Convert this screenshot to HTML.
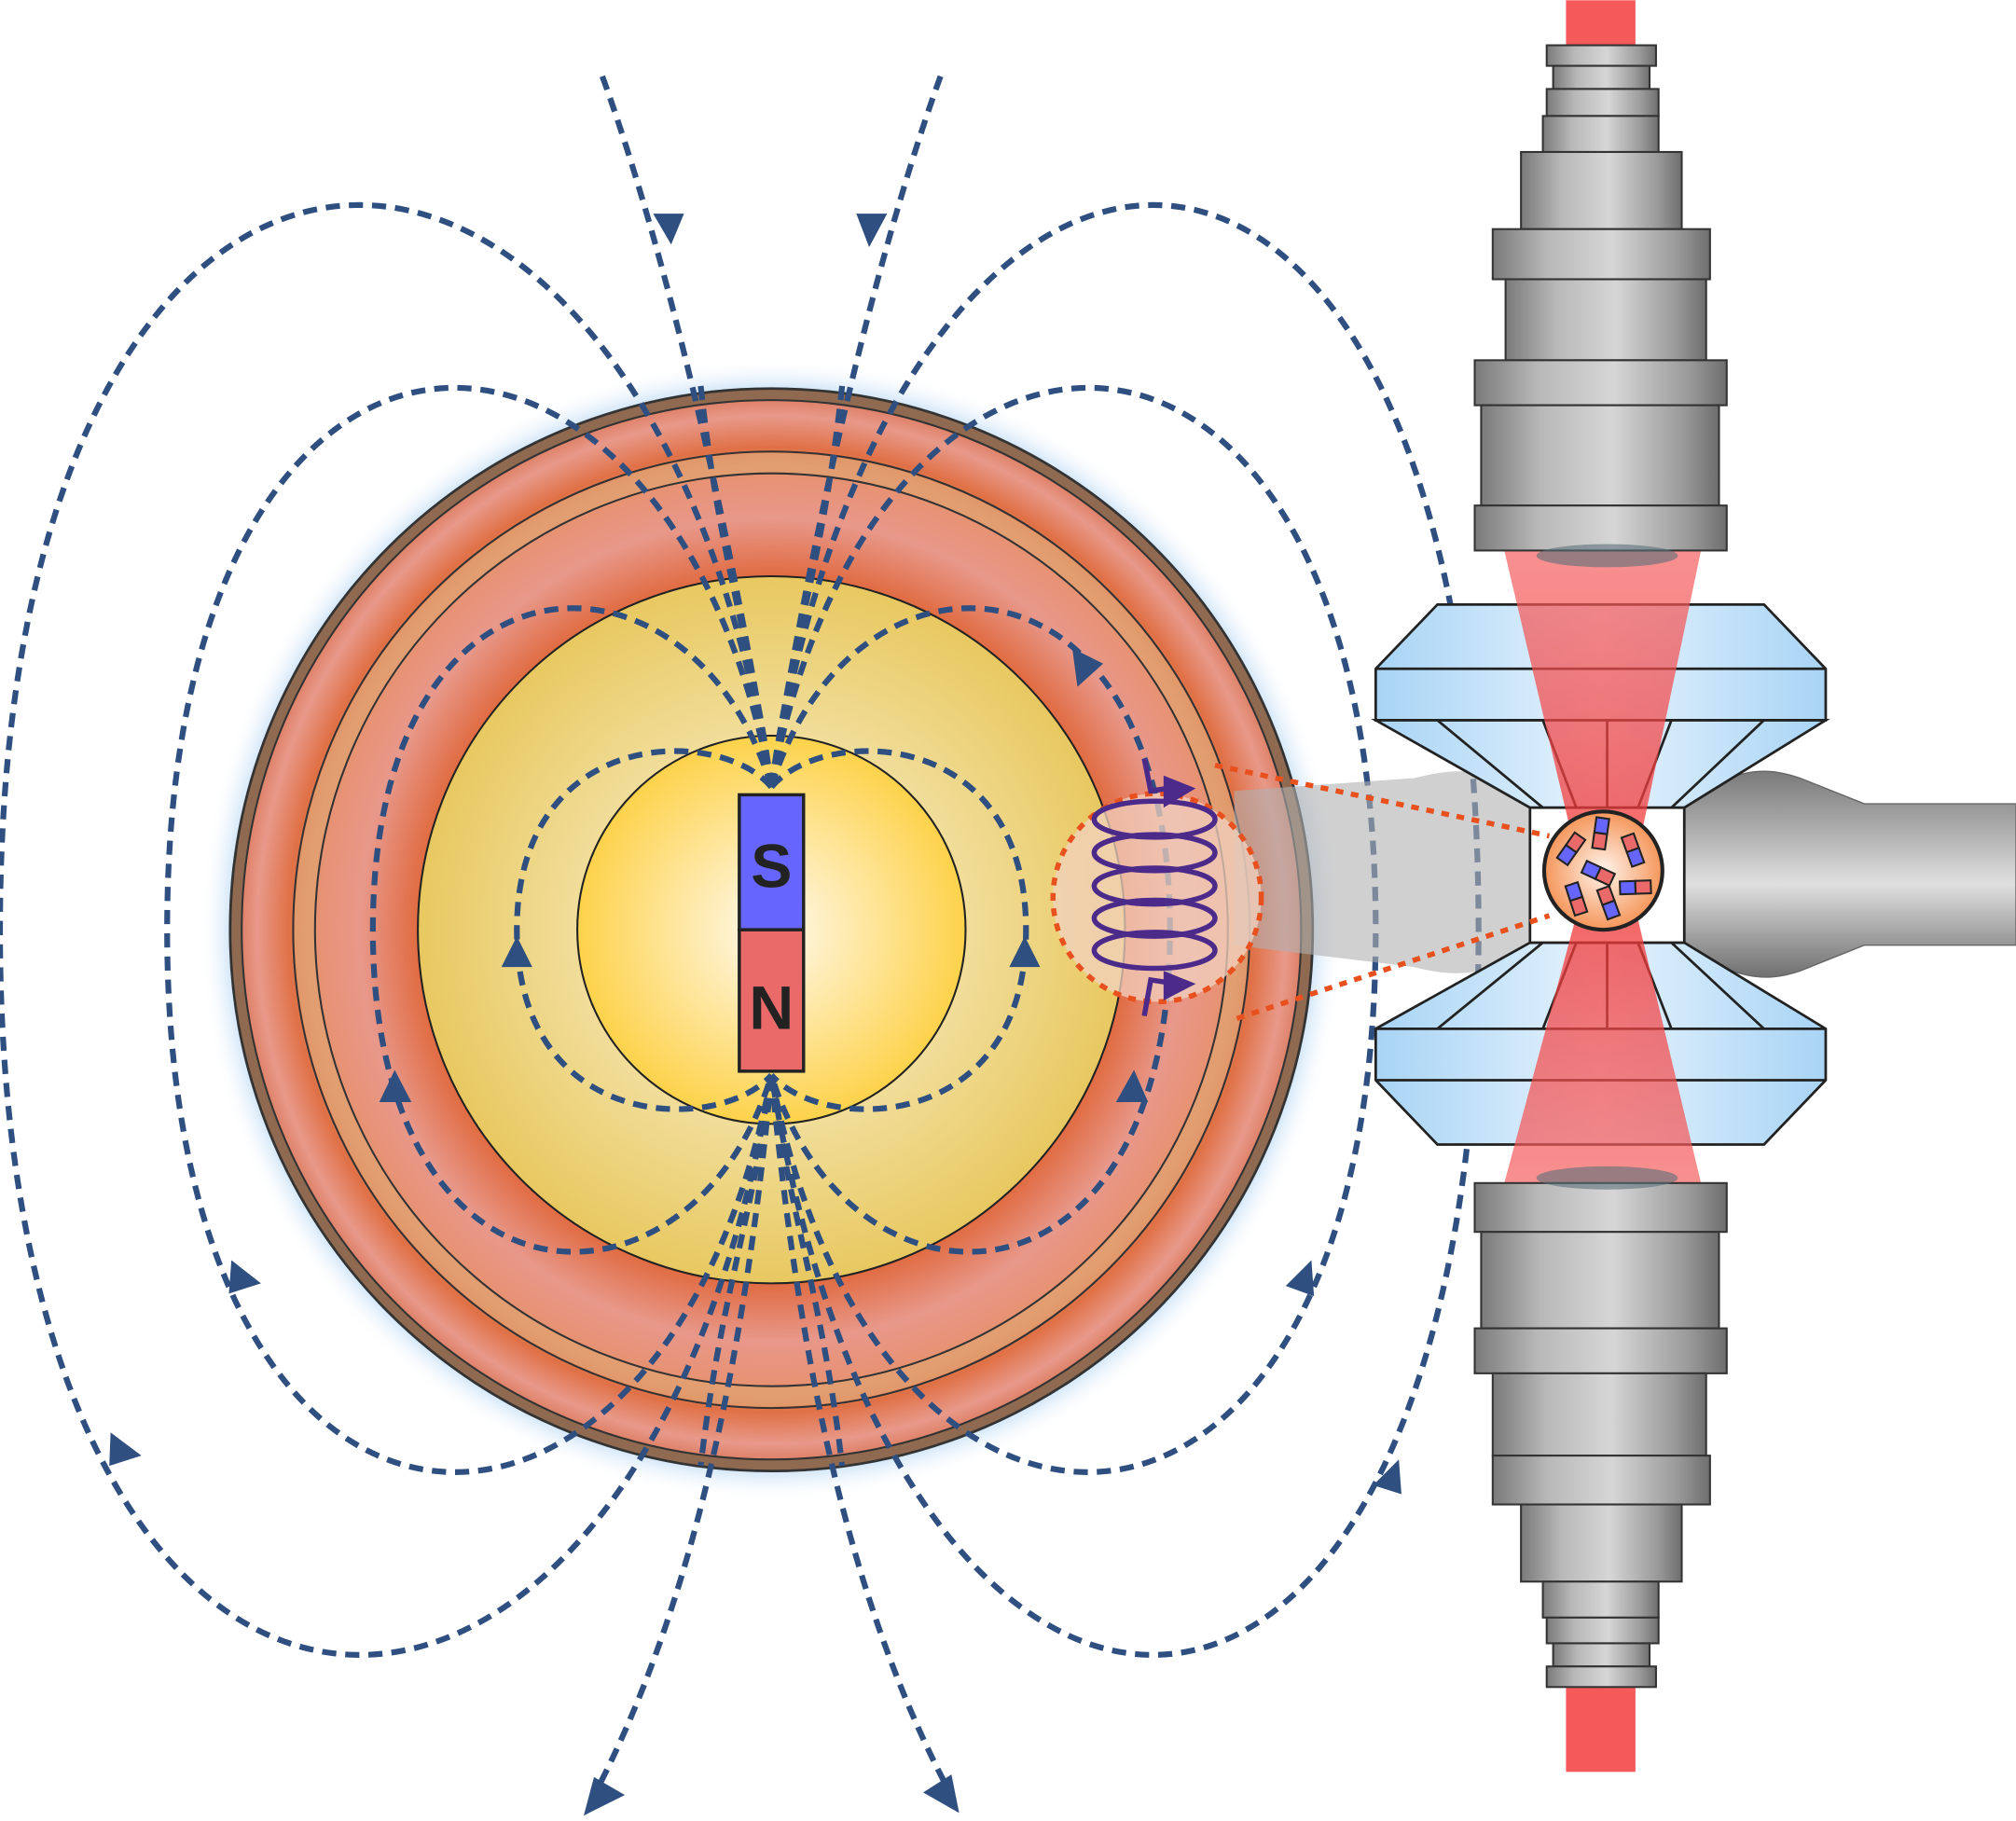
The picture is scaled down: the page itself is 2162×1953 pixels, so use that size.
<!DOCTYPE html>
<html><head><meta charset="utf-8"><style>html,body{margin:0;padding:0;background:#fff}svg{display:block}</style></head>
<body>
<svg width="2162" height="1953" viewBox="0 0 1568 1416" xmlns="http://www.w3.org/2000/svg">
<defs>
<linearGradient id="metal" x1="0" x2="1" y1="0" y2="0">
<stop offset="0" stop-color="#7a7a7a"/><stop offset="0.25" stop-color="#b8b8b8"/><stop offset="0.55" stop-color="#d6d6d6"/><stop offset="0.85" stop-color="#9a9a9a"/><stop offset="1" stop-color="#6e6e6e"/></linearGradient>
<linearGradient id="metalV" x1="0" x2="0" y1="0" y2="1">
<stop offset="0" stop-color="#7a7a7a"/><stop offset="0.3" stop-color="#b0b0b0"/><stop offset="0.55" stop-color="#e0e0e0"/><stop offset="0.8" stop-color="#a0a0a0"/><stop offset="1" stop-color="#707070"/></linearGradient>
<linearGradient id="blueA" x1="0" x2="1"><stop offset="0" stop-color="#a8d4f5"/><stop offset="0.5" stop-color="#e6f3fd"/><stop offset="1" stop-color="#a8d4f5"/></linearGradient>
<radialGradient id="mantle" cx="600" cy="723" r="421" gradientUnits="userSpaceOnUse">
<stop offset="0.65" stop-color="#e06a40"/><stop offset="0.76" stop-color="#e8988a"/><stop offset="0.86" stop-color="#e8906e"/><stop offset="0.89" stop-color="#e07045"/><stop offset="0.95" stop-color="#e8998a"/><stop offset="1" stop-color="#d87050"/></radialGradient>
<radialGradient id="outer" cx="600" cy="723" r="275" gradientUnits="userSpaceOnUse">
<stop offset="0.5" stop-color="#f2e0a0"/><stop offset="1" stop-color="#e8c860"/></radialGradient>
<radialGradient id="inner" cx="600" cy="723" r="152" gradientUnits="userSpaceOnUse">
<stop offset="0" stop-color="#fffaf0"/><stop offset="1" stop-color="#fdd24a"/></radialGradient>
<radialGradient id="sample" cx="0.5" cy="0.5" r="0.5"><stop offset="0" stop-color="#fff4ec"/><stop offset="1" stop-color="#f5965a"/></radialGradient>
<radialGradient id="glow" cx="600" cy="723" r="445" gradientUnits="userSpaceOnUse"><stop offset="0.92" stop-color="#9cc8f0"/><stop offset="1" stop-color="#ffffff" stop-opacity="0"/></radialGradient>
<linearGradient id="beam1" x1="0" x2="0" y1="0" y2="1"><stop offset="0" stop-color="#f56060" stop-opacity="0.7"/><stop offset="1" stop-color="#f03030" stop-opacity="0.75"/></linearGradient>
<linearGradient id="beam2" x1="0" x2="0" y1="1" y2="0"><stop offset="0" stop-color="#f56060" stop-opacity="0.7"/><stop offset="1" stop-color="#f03030" stop-opacity="0.75"/></linearGradient>
</defs>

<circle cx="600" cy="723" r="445" fill="url(#glow)"/>
<circle cx="600" cy="723" r="421" fill="#8f6a50" stroke="#333" stroke-width="2"/>
<circle cx="600" cy="723" r="412" fill="url(#mantle)" stroke="#333" stroke-width="1.5"/>
<circle cx="600" cy="723" r="372" fill="none" stroke="#333" stroke-width="1.5"/>
<circle cx="600" cy="723" r="363" fill="none" stroke="#e0a070" stroke-width="16" opacity="0.8"/>
<circle cx="600" cy="723" r="355" fill="none" stroke="#333" stroke-width="1.5"/>
<circle cx="600" cy="723" r="275" fill="url(#outer)" stroke="#222" stroke-width="1.5"/>
<circle cx="600" cy="723" r="151" fill="url(#inner)" stroke="#222" stroke-width="1.5"/>

<g fill="none" stroke="#2e4f80" stroke-width="4.5" stroke-dasharray="11 7">
<path d="M600,612 C560,564 402,564 402,723 C402,882 560,882 600,836"/>
<path d="M600,612 C640,564 798,564 798,723 C798,882 640,882 600,836"/>
<path d="M600,612 C540,411 290,411 290,723 C290,1035 540,1035 600,836"/>
<path d="M600,612 C660,411 910,411 910,723 C910,1035 660,1035 600,836"/>
<path d="M600,612 C520,181 130,181 130,723 C130,1265 520,1265 600,836"/>
<path d="M600,612 C680,181 1070,181 1070,723 C1070,1265 680,1265 600,836"/>
<path d="M600,612 C500,-9 0,-9 0,723 C0,1455 500,1455 600,836"/>
<path d="M600,612 C700,-9 1150,-9 1150,723 C1150,1455 700,1455 600,836"/>
<path d="M600,612 C570,420 520,200 467,55"/>
<path d="M600,612 C630,420 680,200 733,55"/>
<path d="M600,836 C580,1050 540,1250 460,1400"/>
<path d="M600,836 C620,1050 660,1250 742,1400"/>
<path d="M600,612 C585,500 560,440 545,300"/>
<path d="M600,612 C615,500 640,440 655,300"/>
<path d="M600,836 C585,950 560,1010 545,1140"/>
<path d="M600,836 C615,950 640,1010 655,1140"/>
</g>
<g fill="#2e4f80">
<polygon points="508,166 532,166 522,190"/>
<polygon points="666,166 690,166 676,192"/>
<polygon points="402,728 390,752 414,752"/>
<polygon points="797,728 785,752 809,752"/>
<polygon points="307,832 295,857 320,857"/>
<polygon points="882,832 868,857 893,857"/>
<polygon points="180,980 178,1006 203,998"/>
<polygon points="1020,980 1000,1000 1022,1008"/>
<polygon points="86,1114 85,1140 110,1132"/>
<polygon points="1088,1135 1068,1155 1090,1162"/>
<polygon points="834,504 858,516 838,534"/>
<polygon points="454,1412 462,1382 486,1396"/>
<polygon points="746,1410 718,1394 740,1380"/>
</g>

<rect x="575" y="618" width="50" height="105" fill="#6666ff" stroke="#222" stroke-width="2.5"/>
<rect x="575" y="723" width="50" height="110" fill="#ea6a6a" stroke="#222" stroke-width="2.5"/>
<text x="600" y="690" text-anchor="middle" font-family="Liberation Sans, sans-serif" font-weight="bold" font-size="48" fill="#222">S</text>
<text x="600" y="800" text-anchor="middle" font-family="Liberation Sans, sans-serif" font-weight="bold" font-size="48" fill="#222">N</text>

<rect x="1218" y="0" width="54" height="35" fill="#f55a5a"/>
<rect x="1218" y="1310" width="54" height="68" fill="#f55a5a"/>

<path d="M960,615 L1100,605 C1140,595 1160,598 1195,625 L1195,735 C1160,760 1130,760 1100,752 L960,735 Z" fill="#b0b0b0" opacity="0.6"/>
<path d="M1305,625 C1350,598 1370,595 1400,605 L1450,625 L1568,625 L1568,735 L1450,735 L1400,755 C1370,765 1350,760 1305,735 Z" fill="url(#metalV)" stroke="#666" stroke-width="1"/>

<g stroke="#222" stroke-width="2">
<path d="M1118,470 L1372,470 L1420,520 L1420,560 L1070,560 L1070,520 Z" fill="url(#blueA)"/>
<line x1="1070" y1="520" x2="1420" y2="520"/>
<path d="M1070,560 L1420,560 L1310,628 L1190,628 Z" fill="url(#blueA)"/>
<path d="M1070,800 L1190,733 L1310,733 L1420,800 L1420,840 L1372,890 L1118,890 L1070,840 Z" fill="url(#blueA)"/>
<line x1="1070" y1="800" x2="1420" y2="800"/>
<line x1="1070" y1="840" x2="1420" y2="840"/>
<line x1="1118" y1="560" x2="1200" y2="628"/><line x1="1372" y1="560" x2="1300" y2="628"/>
<line x1="1200" y1="560" x2="1226" y2="628"/><line x1="1300" y1="560" x2="1274" y2="628"/><line x1="1250" y1="560" x2="1250" y2="628"/>
<line x1="1118" y1="800" x2="1200" y2="733"/><line x1="1372" y1="800" x2="1300" y2="733"/>
<line x1="1200" y1="800" x2="1226" y2="733"/><line x1="1300" y1="800" x2="1274" y2="733"/><line x1="1250" y1="800" x2="1250" y2="733"/>
</g>
<rect x="1190" y="628" width="120" height="105" fill="#fff" stroke="#222" stroke-width="2"/>
<polygon points="1170,428 1323,428 1268,690 1232,690" fill="url(#beam1)"/>
<polygon points="1232,690 1268,690 1323,920 1170,920" fill="url(#beam2)"/>

<g fill="url(#metal)" stroke="#333" stroke-width="1.5">
<rect x="1203" y="35" width="85" height="16"/>
<rect x="1208" y="51" width="75" height="18"/>
<rect x="1203" y="69" width="87" height="21"/>
<rect x="1200" y="90" width="90" height="28"/>
<rect x="1183" y="118" width="125" height="60"/>
<rect x="1161" y="178" width="169" height="39"/>
<rect x="1171" y="217" width="156" height="63"/>
<rect x="1147" y="280" width="196" height="35"/>
<rect x="1152" y="315" width="185" height="78"/>
<rect x="1147" y="393" width="196" height="35"/>
</g>
<ellipse cx="1250" cy="432" rx="55" ry="9" fill="#5a7078" opacity="0.6"/>
<g fill="url(#metal)" stroke="#333" stroke-width="1.5">
<rect x="1147" y="920" width="196" height="38"/>
<rect x="1152" y="958" width="185" height="75"/>
<rect x="1147" y="1033" width="196" height="35"/>
<rect x="1161" y="1068" width="166" height="64"/>
<rect x="1161" y="1132" width="169" height="38"/>
<rect x="1183" y="1170" width="125" height="60"/>
<rect x="1200" y="1230" width="90" height="28"/>
<rect x="1203" y="1258" width="87" height="20"/>
<rect x="1208" y="1278" width="75" height="18"/>
<rect x="1203" y="1296" width="85" height="16"/>
</g>
<ellipse cx="1250" cy="916" rx="55" ry="9" fill="#5a7078" opacity="0.6"/>

<circle cx="1247" cy="677" r="46" fill="url(#sample)" stroke="#222" stroke-width="3"/>
<g stroke="#222" stroke-width="1.5">
<g transform="translate(1222,660) rotate(35)"><rect x="-5" y="-12" width="10" height="12" fill="#ea6a6a"/><rect x="-5" y="0" width="10" height="12" fill="#6666ff"/></g>
<g transform="translate(1245,648) rotate(8)"><rect x="-5" y="-12" width="10" height="12" fill="#6666ff"/><rect x="-5" y="0" width="10" height="12" fill="#ea6a6a"/></g>
<g transform="translate(1270,661) rotate(-20)"><rect x="-5" y="-12" width="10" height="12" fill="#ea6a6a"/><rect x="-5" y="0" width="10" height="12" fill="#6666ff"/></g>
<g transform="translate(1243,679) rotate(-65)"><rect x="-5" y="-12" width="10" height="12" fill="#6666ff"/><rect x="-5" y="0" width="10" height="12" fill="#ea6a6a"/></g>
<g transform="translate(1226,699) rotate(-18)"><rect x="-5" y="-12" width="10" height="12" fill="#6666ff"/><rect x="-5" y="0" width="10" height="12" fill="#ea6a6a"/></g>
<g transform="translate(1251,702) rotate(-20)"><rect x="-5" y="-12" width="10" height="12" fill="#ea6a6a"/><rect x="-5" y="0" width="10" height="12" fill="#6666ff"/></g>
<g transform="translate(1272,690) rotate(-92)"><rect x="-5" y="-12" width="10" height="12" fill="#6666ff"/><rect x="-5" y="0" width="10" height="12" fill="#ea6a6a"/></g>
</g>

<circle cx="900" cy="698" r="81" fill="#f2d2c0" opacity="0.75"/>
<g fill="none" stroke="#e8501e" stroke-width="4" stroke-dasharray="6 6">
<circle cx="900" cy="698" r="81"/>
<line x1="945" y1="595" x2="1205" y2="650"/>
<line x1="962" y1="792" x2="1205" y2="712"/>
</g>
<g fill="none" stroke="#4b2a8a" stroke-width="4">
<path d="M890,590 L895,615 L915,612"/>
<ellipse cx="898" cy="637" rx="47" ry="14"/>
<ellipse cx="898" cy="663" rx="47" ry="14"/>
<ellipse cx="898" cy="689" rx="47" ry="14"/>
<ellipse cx="898" cy="714" rx="47" ry="14"/>
<ellipse cx="898" cy="739" rx="47" ry="14"/>
<path d="M915,765 L895,762 L890,790"/>
</g>
<polygon points="905,603 930,613 905,628" fill="#4b2a8a"/>
<polygon points="905,755 930,765 905,778" fill="#4b2a8a"/>
</svg>
</body></html>
